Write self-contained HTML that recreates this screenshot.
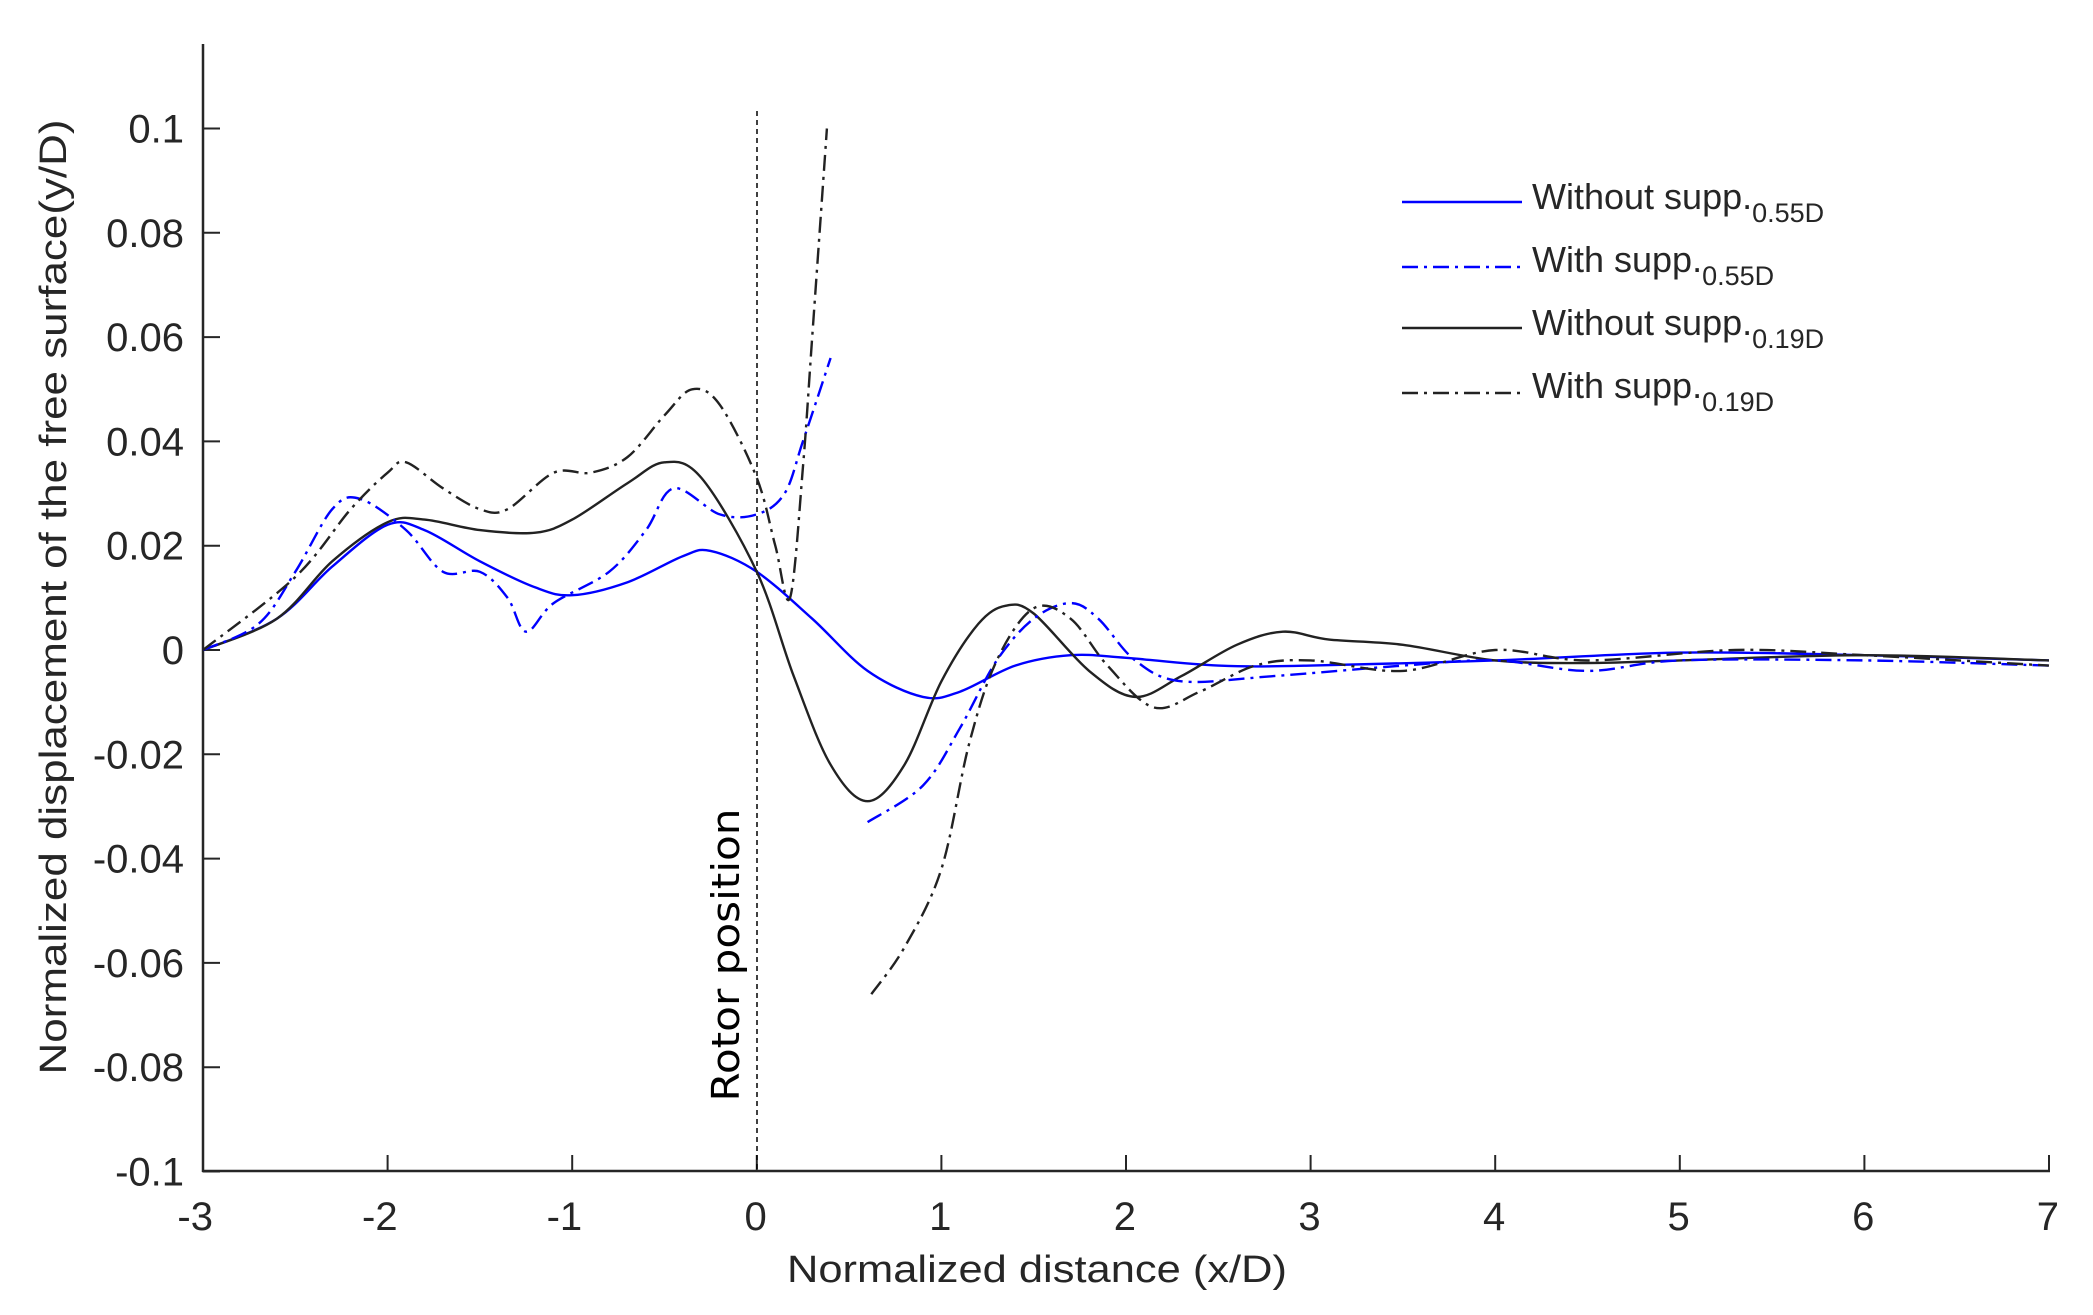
<!DOCTYPE html>
<html><head><meta charset="utf-8"><style>
html,body{margin:0;padding:0;background:#fff;}
svg{display:block;}
text{font-family:"Liberation Sans",sans-serif;fill:#262626;}
</style></head><body>
<svg id="s" width="2093" height="1315" viewBox="0 0 2093 1315" xmlns="http://www.w3.org/2000/svg">
<rect width="2093" height="1315" fill="#fff"/>
<g id="axes" stroke="#262626" stroke-width="2.5" fill="none">
<line x1="203" y1="44" x2="203" y2="1172"/>
<line x1="202" y1="1171" x2="2050" y2="1171"/>
</g>
<g id="ticks" stroke="#262626" stroke-width="2"></g>
<g id="labels" font-size="40" text-anchor="end"></g>
<line x1="757" y1="111" x2="757" y2="1171" stroke="#000" stroke-width="1.5" stroke-dasharray="5,4"/>
<g id="curves" fill="none" stroke-width="2.4"></g>
<text x="1037" y="1282" font-size="38" text-anchor="middle" textLength="500" lengthAdjust="spacingAndGlyphs">Normalized distance (x/D)</text>
<text transform="translate(66,597) rotate(-90)" font-size="38" text-anchor="middle" textLength="955" lengthAdjust="spacingAndGlyphs">Normalized displacement of the free surface(y/D)</text>
<text transform="translate(739,955) rotate(-90)" font-size="38" text-anchor="middle" textLength="293" lengthAdjust="spacingAndGlyphs" style="font-family:'DejaVu Sans',sans-serif;fill:#000">Rotor position</text>
<g font-size="36">
<line x1="1402" y1="202" x2="1522" y2="202" stroke="#0000ff" stroke-width="2.4"/>
<text x="1532" y="209">Without supp.<tspan font-size="27" dy="13">0.55D</tspan></text>
<line x1="1402" y1="267" x2="1522" y2="267" stroke="#0000ff" stroke-width="2.4" stroke-dasharray="16,6,3,6"/>
<text x="1532" y="272">With supp.<tspan font-size="27" dy="13">0.55D</tspan></text>
<line x1="1402" y1="328" x2="1522" y2="328" stroke="#222" stroke-width="2.4"/>
<text x="1532" y="335">Without supp.<tspan font-size="27" dy="13">0.19D</tspan></text>
<line x1="1402" y1="393" x2="1522" y2="393" stroke="#222" stroke-width="2.4" stroke-dasharray="16,6,3,6"/>
<text x="1532" y="398">With supp.<tspan font-size="27" dy="13">0.19D</tspan></text>
</g>
</svg>
<script>
var NS="http://www.w3.org/2000/svg";
function X(x){return 203+184.6*(x+3);}
function Y(y){return 650-5215*y;}
var tk=document.getElementById('ticks'),lb=document.getElementById('labels');
function el(p,t,a,txt){var e=document.createElementNS(NS,t);for(var k in a)e.setAttribute(k,a[k]);if(txt!=null)e.textContent=txt;p.appendChild(e);return e;}
for(var i=-3;i<=7;i++){var x=X(i);el(tk,'line',{x1:x,y1:1171,x2:x,y2:1155});el(lb,'text',{x:x+10,y:1230},String(i));}
var yl=['0.1','0.08','0.06','0.04','0.02','0','-0.02','-0.04','-0.06','-0.08','-0.1'];
for(var j=0;j<=10;j++){var v=0.1-0.02*j,y=Y(v);el(tk,'line',{x1:203,y1:y,x2:220,y2:y});el(lb,'text',{x:184,y:y+14},yl[j]);}
function path(pts){var p=pts.map(function(q){return [X(q[0]),Y(q[1])];});var d='M'+p[0][0].toFixed(1)+','+p[0][1].toFixed(1);
for(var i=0;i<p.length-1;i++){var p0=p[i-1]||p[i],p1=p[i],p2=p[i+1],p3=p[i+2]||p2;
var c1=[p1[0]+(p2[0]-p0[0])/6,p1[1]+(p2[1]-p0[1])/6],c2=[p2[0]-(p3[0]-p1[0])/6,p2[1]-(p3[1]-p1[1])/6];
d+='C'+c1[0].toFixed(1)+','+c1[1].toFixed(1)+' '+c2[0].toFixed(1)+','+c2[1].toFixed(1)+' '+p2[0].toFixed(1)+','+p2[1].toFixed(1);}return d;}
var cv=document.getElementById('curves');
function add(pts,col,dash){var a={d:path(pts),stroke:col};if(dash)a['stroke-dasharray']='16,6,3,6';el(cv,'path',a);}
var B='#0000ff',K='#222';
add([[-3,0],[-2.6,0.006],[-2.3,0.016],[-2,0.024],[-1.8,0.023],[-1.5,0.017],[-1.2,0.012],[-1,0.0105],[-0.7,0.013],[-0.4,0.018],[-0.25,0.019],[0,0.015],[0.3,0.006],[0.6,-0.004],[0.9,-0.009],[1.1,-0.008],[1.4,-0.003],[1.7,-0.001],[2,-0.0015],[2.5,-0.003],[3,-0.003],[4,-0.002],[5,-0.0005],[6,-0.001],[7,-0.002]],B);
add([[-3,0],[-2.6,0.006],[-2.3,0.017],[-2,0.0245],[-1.8,0.025],[-1.5,0.023],[-1.2,0.0225],[-1,0.025],[-0.7,0.032],[-0.5,0.036],[-0.3,0.033],[0,0.015],[0.2,-0.005],[0.4,-0.022],[0.6,-0.029],[0.8,-0.022],[1,-0.006],[1.2,0.005],[1.35,0.0085],[1.5,0.007],[1.8,-0.004],[2.05,-0.009],[2.3,-0.005],[2.6,0.001],[2.85,0.0035],[3.1,0.002],[3.5,0.001],[4,-0.002],[4.5,-0.0025],[5,-0.002],[6,-0.001],[7,-0.002]],K);
add([[-3,0],[-2.7,0.005],[-2.5,0.015],[-2.3,0.027],[-2.15,0.029],[-1.9,0.023],[-1.7,0.015],[-1.5,0.015],[-1.35,0.01],[-1.25,0.0035],[-1.1,0.009],[-0.8,0.015],[-0.6,0.023],[-0.45,0.031],[-0.2,0.026],[0,0.026],[0.15,0.03],[0.25,0.04],[0.4,0.056]],B,1);
add([[0.6,-0.033],[0.9,-0.026],[1.1,-0.015],[1.3,-0.002],[1.5,0.006],[1.7,0.009],[1.85,0.006],[2.05,-0.002],[2.3,-0.006],[2.8,-0.005],[3.5,-0.003],[4,-0.002],[4.5,-0.004],[5,-0.002],[6,-0.002],[7,-0.003]],B,1);
add([[-3,0],[-2.5,0.014],[-2.2,0.027],[-2,0.034],[-1.9,0.036],[-1.7,0.031],[-1.5,0.027],[-1.35,0.027],[-1.1,0.034],[-0.9,0.034],[-0.7,0.037],[-0.5,0.045],[-0.35,0.05],[-0.2,0.047],[0,0.033],[0.1,0.02],[0.18,0.01],[0.25,0.035],[0.3,0.06],[0.38,0.1]],K,1);
add([[0.62,-0.066],[0.8,-0.057],[1,-0.042],[1.15,-0.018],[1.3,-0.002],[1.5,0.008],[1.7,0.006],[1.9,-0.003],[2.15,-0.011],[2.4,-0.008],[2.7,-0.003],[3,-0.002],[3.5,-0.004],[4,0],[4.5,-0.002],[5.3,0],[6,-0.001],[7,-0.003]],K,1);
</script>
</body></html>
